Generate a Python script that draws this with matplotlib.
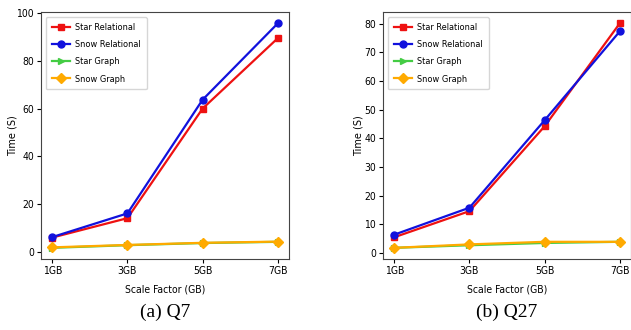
import matplotlib
matplotlib.use("Agg")
import matplotlib.pyplot as plt
from matplotlib import font_manager

escalas = ["1GB", "3GB", "5GB", "7GB"]

# Q7
q7_star_rel = [6.1, 14.2, 60.0, 89.4]
q7_snow_rel = [6.3, 16.2, 63.7, 95.6]
q7_star_graph = [1.8, 2.9, 3.8, 4.3]
q7_snow_graph = [2.0, 3.0, 3.9, 4.4]

# Q27
q27_star_rel = [5.5, 14.6, 44.2, 80.1]
q27_snow_rel = [6.4, 15.8, 46.3, 77.3]
q27_star_graph = [1.8, 2.7, 3.5, 3.9]
q27_snow_graph = [1.8, 3.0, 3.9, 3.9]

legendas = ["Star Relational", "Snow Relational", "Star Graph", "Snow Graph"]
cores = ["#ee1111", "#1111dd", "#44cc44", "#ffaa00"]
marcadores = ["s", "o", ">", "D"]

# fonte estreita (DejaVu Sans Condensed, se existir)
TAM = 7.5
fonte_fina = font_manager.FontProperties(family="DejaVu Sans", stretch="condensed", size=TAM)
if "Condensed" not in font_manager.findfont(fonte_fina):
    TAM = 7
    fonte_fina = font_manager.FontProperties(family="Liberation Sans", size=TAM)
fonte_legenda = fonte_fina.copy()
fonte_legenda.set_size(6.6)


def desenhar(ax, series, legenda, pos_ylabel):
    for valores, rotulo, cor, mk in zip(series, legendas, cores, marcadores):
        ax.plot(escalas, valores, color=cor, marker=mk, markersize=5,
                linewidth=1.6, label=rotulo)
    ax.set_xlabel("Scale Factor (GB)", fontproperties=fonte_fina)
    ax.set_ylabel("Time (S)", fontsize=7, family="DejaVu Sans")
    ax.yaxis.set_label_coords(pos_ylabel, 0.5)
    ax.xaxis.set_label_coords(0.5, -25 / 247)
    ax.tick_params(length=3, pad=2, labelsize=TAM)
    for t in ax.get_xticklabels() + ax.get_yticklabels():
        t.set_fontproperties(fonte_fina)
    ax.legend(loc="upper left", prop=fonte_legenda,
              handlelength=2.0, borderpad=0.65, labelspacing=0.9,
              handletextpad=0.6, borderaxespad=0.5)
    for s in ax.spines.values():
        s.set_color("#444444")
    ax.text(0.5, -0.215, legenda, transform=ax.transAxes, ha="center",
            va="center", fontsize=14, family="Liberation Serif")


fig = plt.figure(figsize=(6.31, 3.30), dpi=100)
ax1 = fig.add_axes([0.065, 0.215, 0.393, 0.748])
ax2 = fig.add_axes([0.607, 0.215, 0.393, 0.748])

desenhar(ax1, [q7_star_rel, q7_snow_rel, q7_star_graph, q7_snow_graph],
         "(a) Q7", -23 / 248)
desenhar(ax2, [q27_star_rel, q27_snow_rel, q27_star_graph, q27_snow_graph],
         "(b) Q27", -19 / 248)

fig.savefig("out.png", dpi=100)
